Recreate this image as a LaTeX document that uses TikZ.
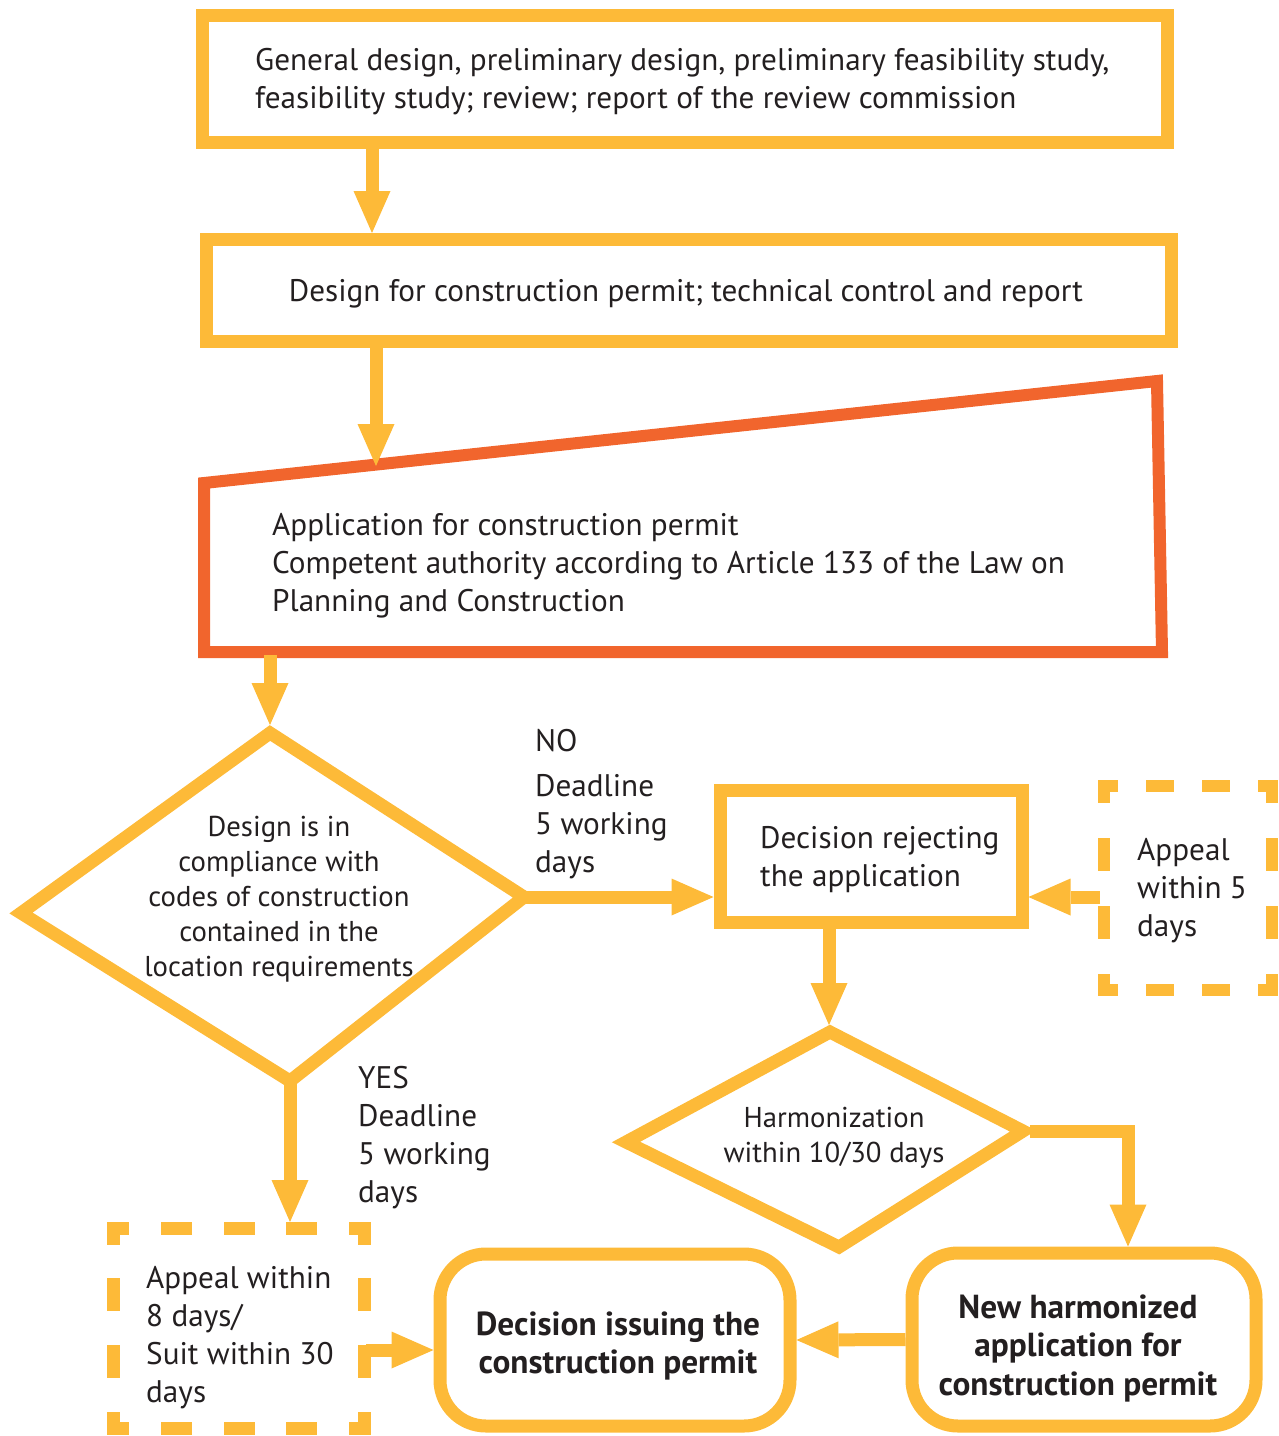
\documentclass[tikz,border=0pt]{standalone}
\usepackage{fontspec}
\setmainfont{PT Sans}
\usetikzlibrary{arrows.meta}
\definecolor{yel}{RGB}{253,186,56}
\definecolor{org}{RGB}{241,101,45}
\definecolor{ink}{RGB}{35,31,32}
\begin{document}
\begin{tikzpicture}[x=1pt,y=-1pt,line join=miter,
  box/.style={draw=yel,line width=13pt,rectangle,inner sep=0pt},
  rbox/.style={box,rounded corners=46pt},
  conn/.style={draw=yel,line width=13pt},
  arr/.style={conn,-{Triangle[length=42pt,width=37pt,line width=0pt]}},
  txt/.style={text=ink,inner sep=0pt,font=\fontsize{31.2}{38}\selectfont},
  dtxt/.style={text=ink,inner sep=0pt,font=\fontsize{28.7}{35}\selectfont},
  btxt/.style={text=ink,inner sep=0pt,font=\bfseries\fontsize{33.3}{38.5}\selectfont},
  dashA/.style={draw=yel,line width=12pt,line cap=rect,dash pattern=on 16pt off 40pt,dash phase=8pt},
  dashB/.style={draw=yel,line width=12pt,line cap=rect,dash pattern=on 21pt off 47pt,dash phase=10.5pt},
  dashC/.style={draw=yel,line width=13pt,line cap=rect,dash pattern=on 18pt off 44.75pt,dash phase=9pt},
  dashD/.style={draw=yel,line width=13pt,line cap=rect,dash pattern=on 20pt off 46.67pt,dash phase=10pt}]
\useasboundingbox (0,0) rectangle (1279,1436);

% Box 1
\node[box,minimum width=965pt,minimum height=127pt] (b1) at (684.5,78.5) {};
\node[txt,anchor=west,align=left] (t1) at (255,81.5) {General design, preliminary design, preliminary feasibility study,\\feasibility study; review; report of the review commission};

% Box 2
\node[box,minimum width=965pt,minimum height=102pt] (b2) at (688.5,290.5) {};
\node[txt] (t2) at (686,293.5) {Design for construction permit; technical control and report};

% Orange application shape
\coordinate (o1) at (204,483);
\coordinate (o2) at (1157,381);
\coordinate (o3) at (1162,652);
\coordinate (o4) at (204,652);
\draw[draw=org,line width=12pt] (o1) -- (o2) -- (o3) -- (o4) -- cycle;
\node[txt,anchor=west,align=left] (t3) at (272,565.5) {Application for construction permit\\Competent authority according to Article 133 of the Law on\\Planning and Construction};

\coordinate (ax1) at (372,0);
\draw[arr] (b1.south -| ax1) -- (b2.north -| ax1);
\coordinate (oTop) at (376,466);
\draw[arr] (b2.south -| oTop) -- (oTop);

% Big diamond
\coordinate (dT) at (270,733);
\coordinate (dL) at (21,913);
\coordinate (dR) at (524,897);
\coordinate (dB) at (290,1081);
\draw[conn] (dT) -- (dR) -- (dB) -- (dL) -- cycle;
\node[dtxt,align=center] (t4) at (279,899) {Design is in\\compliance with\\codes of construction\\contained in the\\location requirements};
\coordinate (oBot) at (270,655);
\coordinate (dTo) at (270,725);
\draw[arr] (oBot) -- (dTo);

% Reject box
\node[box,minimum width=302pt,minimum height=132pt] (rej) at (871,856) {};
\node[txt,anchor=west,align=left] (t5) at (760,860) {Decision rejecting\\the application};
\draw[arr] (dR) -- (rej.west |- dR);
\node[txt,anchor=west,align=left] (no) at (535,804) {NO\\[7pt]Deadline\\5 working\\days};

% Appeal 5 dashed box
\draw[dashA] (1104,786) -- (1272,786);
\draw[dashA] (1104,990) -- (1272,990);
\draw[dashB] (1104,786) -- (1104,990);
\draw[dashB] (1272,786) -- (1272,990);
\node[txt,anchor=west,align=left] (t6) at (1137,891) {Appeal\\within 5\\days};
\coordinate (a5L) at (1100,897);
\draw[arr] (a5L) -- (rej.east |- a5L);

% Harmonization diamond
\coordinate (hT) at (830,1032);
\coordinate (hL) at (626,1142);
\coordinate (hR) at (1023,1131);
\coordinate (hB) at (839,1247);
\draw[conn] (hT) -- (hR) -- (hB) -- (hL) -- cycle;
\node[dtxt,align=center] (t7) at (834,1137.5) {Harmonization\\within 10/30 days};
\coordinate (hTo) at (829,1025);
\draw[arr] (rej.south -| hTo) -- (hTo);

% New harmonized application
\node[rbox,minimum width=344pt,minimum height=173pt] (new) at (1084,1339.5) {};
\node[btxt,align=center] (t8) at (1078,1348) {New harmonized\\application for\\construction permit};
\coordinate (hRo) at (1030,1131);
\draw[arr] (hRo) -| ([xshift=44pt]new.north);

% Decision issuing
\node[rbox,minimum width=350pt,minimum height=172pt] (dec) at (615,1340) {};
\node[btxt,align=center] (t9) at (618,1346) {Decision issuing the\\construction permit};
\draw[arr] (new.west) -- (dec.east);

% Appeal 8 dashed box
\draw[dashC] (113.5,1228) -- (364.5,1228);
\draw[dashC] (113.5,1428) -- (364.5,1428);
\draw[dashD] (113.5,1228) -- (113.5,1428);
\draw[dashD] (364.5,1228) -- (364.5,1428);
\node[txt,anchor=west,align=left] (t10) at (146,1338) {Appeal within\\8 days/\\Suit within 30\\days};
\coordinate (a8T) at (290,1222);
\draw[arr] (dB) -- (a8T);
\coordinate (a8R) at (366,1350);
\draw[arr] (a8R) -- (dec.west |- a8R);
\node[txt,anchor=west,align=left] (yes) at (358,1137.5) {YES\\Deadline\\5 working\\days};
\end{tikzpicture}
\end{document}
